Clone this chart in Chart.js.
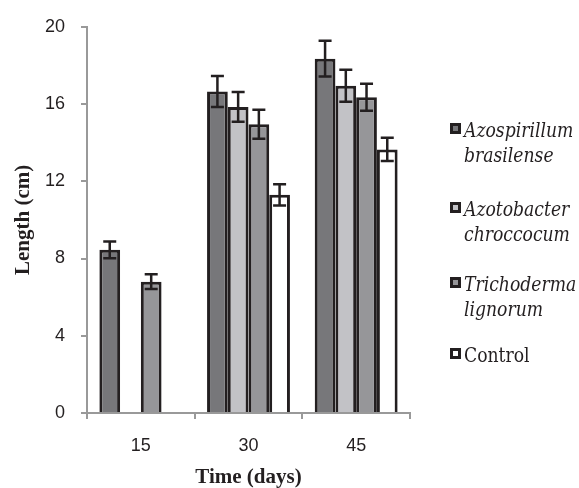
<!DOCTYPE html>
<html>
<head>
<meta charset="utf-8">
<script src="https://cdn.jsdelivr.net/npm/chart.js@4"></script>
<style>
  html, body { margin: 0; padding: 0; background: #fff; }
</style>
</head>
<body>
<canvas id="myBarChart" width="579" height="488"></canvas>
<script>
const categories = ['15', '30', '45'];
const seriesNames = [['Azospirillum', 'brasilense'], ['Azotobacter', 'chroccocum'], ['Trichoderma', 'lignorum'], ['Control']];
const azospirillum = [8.45, 16.65, 18.35];
const azotobacter = [null, 15.85, 16.95];
const trichoderma = [6.8, 14.95, 16.35];
const control = [null, 11.3, 13.65];
const azospirillumErr = [0.43, 0.8, 0.93];
const azotobacterErr = [null, 0.77, 0.83];
const trichodermaErr = [0.38, 0.75, 0.7];
const control_err = [null, 0.55, 0.6];
const yTicks = [0, 4, 8, 12, 16, 20];

const fills = ['#77777a', '#c2c2c6', '#969699', '#ffffff'];
const values = [azospirillum, azotobacter, trichoderma, control];
const errors = [azospirillumErr, azotobacterErr, trichodermaErr, control_err];
const italicNames = [true, true, true, false];

// error bars drawn through the chart's own scales
const errorBarPlugin = {
    id: 'errorBars',
    afterDatasetsDraw(chart) {
        const ctx = chart.ctx;
        const yScale = chart.scales.y;
        ctx.save();
        ctx.strokeStyle = '#231f20';
        ctx.lineWidth = 2.5;
        chart.data.datasets.forEach((ds, i) => {
            const meta = chart.getDatasetMeta(i);
            meta.data.forEach((bar, j) => {
                const v = ds.data[j];
                const e = errors[i][j];
                if (v == null || e == null) return;
                const x = bar.x;
                const top = yScale.getPixelForValue(v + e);
                const bot = yScale.getPixelForValue(v - e);
                ctx.beginPath();
                ctx.moveTo(x, top); ctx.lineTo(x, bot);
                ctx.moveTo(x - 6.5, top); ctx.lineTo(x + 6.5, top);
                ctx.moveTo(x - 6.5, bot); ctx.lineTo(x + 6.5, bot);
                ctx.stroke();
            });
        });
        ctx.restore();
    }
};

// legend on the right, two-line italic names (serif, slightly condensed)
const sideLegend = {
    id: 'sideLegend',
    afterDraw(chart) {
        const ctx = chart.ctx;
        const left = chart.chartArea.right + 40;
        const tops = [123, 202, 277, 348];
        ctx.save();
        ctx.textBaseline = 'alphabetic';
        chart.data.datasets.forEach((ds, i) => {
            const t = tops[i];
            ctx.fillStyle = '#231f20';
            ctx.fillRect(left, t, 11, 11);
            ctx.fillStyle = ds.backgroundColor;
            ctx.fillRect(left + 3, t + 3, 5, 5);
            ctx.fillStyle = '#231f20';
            ctx.font = (italicNames[i] ? 'italic ' : '') + '20px DejaVu Serif';
            seriesNames[i].forEach((line, k) => {
                ctx.save();
                ctx.translate(left + 14, t + 14 + k * 25);
                ctx.scale(0.86, 1);
                ctx.fillText(line, 0, 0);
                ctx.restore();
            });
        });
        ctx.restore();
    }
};

const tickFont = { family: 'Liberation Sans', size: 18 };
const titleFont = { family: 'Liberation Serif', size: 21, weight: 'bold', lineHeight: 1.0 };

const ctx = document.getElementById('myBarChart').getContext('2d');
const barChart = new Chart(ctx, {
    type: 'bar',
    data: {
        labels: categories,
        datasets: values.map((vals, i) => ({
            label: seriesNames[i].join(' '),
            data: vals,
            backgroundColor: fills[i],
            borderColor: '#231f20',
            borderWidth: 3,
            categoryPercentage: 0.77,
            barPercentage: 1.0
        }))
    },
    options: {
        responsive: false,
        animation: false,
        layout: { padding: { left: 0, right: 169, top: 24, bottom: 0 } },
        plugins: { legend: { display: false }, tooltip: { enabled: false } },
        scales: {
            x: {
                grid: { display: true, drawOnChartArea: false, color: '#999999', lineWidth: 2, tickLength: 6, offset: true },
                border: { color: '#999999', width: 2 },
                ticks: { color: '#231f20', font: tickFont, padding: 16 },
                title: { display: true, text: 'Time (days)', color: '#231f20', font: titleFont, padding: { top: 0, bottom: 0 } },
                afterFit(scale) { scale.height = 75; }
            },
            y: {
                min: 0,
                max: 20,
                afterBuildTicks(scale) { scale.ticks = yTicks.map(v => ({ value: v })); },
                grid: { display: true, drawOnChartArea: false, color: '#999999', lineWidth: 2, tickLength: 6 },
                border: { color: '#999999', width: 2 },
                ticks: { color: '#231f20', font: tickFont, padding: 16 },
                title: { display: true, text: 'Length (cm)', color: '#231f20', font: titleFont, padding: { top: 13, bottom: 0 } },
                afterFit(scale) { scale.width = 87; }
            }
        }
    },
    plugins: [errorBarPlugin, sideLegend]
});
</script>
</body>
</html>
